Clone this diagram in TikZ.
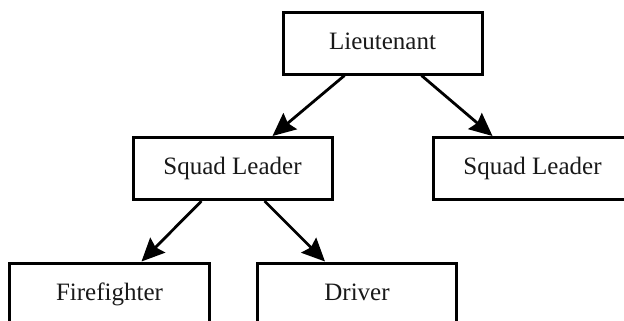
\documentclass[tikz,border=0pt]{standalone}
\usepackage{fontspec}
\setmainfont{Liberation Serif}
\usetikzlibrary{arrows.meta}
\begin{document}
\begin{tikzpicture}[x=1bp,y=-1bp,
  box/.style={draw=black,line width=3bp,minimum width=199bp,minimum height=62bp,
    inner sep=0pt,text height=17bp,text depth=5bp,
    font=\fontsize{25bp}{30bp}\selectfont,text=black!90},
  link/.style={line width=2.8bp,-{Stealth[length=23bp,width=21bp,inset=3bp]}}]
\useasboundingbox (0,0) rectangle (624,320);
\node[box] (lt) at (382.5,43) {Lieutenant};
\node[box] (sl1) at (232.5,168.5) {Squad Leader};
\node[box] (sl2) at (532.5,168.5) {Squad Leader};
\node[box] (ff) at (109.5,294) {Firefighter};
\node[box] (dr) at (357,294) {Driver};
\draw[link] ([xshift=-38bp]lt.south) -- ([xshift=40bp]sl1.north);
\draw[link] ([xshift=39bp]lt.south) -- ([xshift=-40bp]sl2.north);
\draw[link] ([xshift=-31bp]sl1.south) -- ([xshift=32bp]ff.north);
\draw[link] ([xshift=32bp]sl1.south) -- ([xshift=-32bp]dr.north);
\end{tikzpicture}
\end{document}
